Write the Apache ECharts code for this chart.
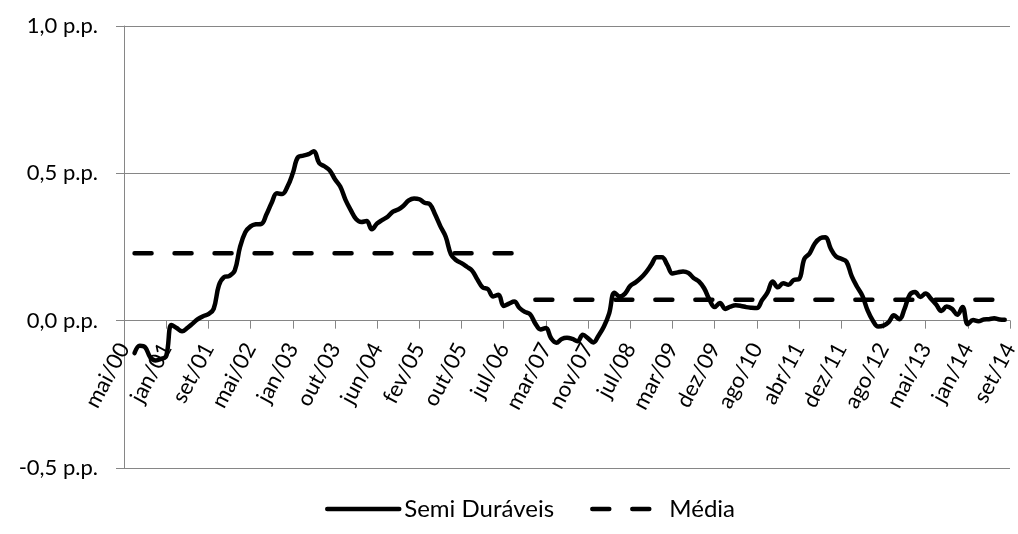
<!DOCTYPE html>
<html>
<head>
<meta charset="utf-8">
<style>
  html, body { margin: 0; padding: 0; background: #ffffff; }
  #chart { width: 1018px; height: 534px; }
</style>
<script src="https://cdn.jsdelivr.net/npm/echarts@6/dist/echarts.min.js"></script>
</head>
<body>
<div id="chart"></div>
<script>
// Monthly axis from mai/00 to set/14 (a few months are absent from the sample)
const monthNames = ['jan', 'fev', 'mar', 'abr', 'mai', 'jun', 'jul', 'ago', 'set', 'out', 'nov', 'dez'];
const firstMonth = { year: 2000, month: 4 };   // mai/00
const lastLabel = 'set/14';
const skippedMonths = ['jul/03', 'mar/06', 'jun/09', 'dez/12'];

// Y-axis ticks (p.p.)
const yTicks = [-0.5, 0.0, 0.5, 1.0];

// Semi Duráveis (p.p.), one value per category
const semiDuraveis = [
  null, null, -0.11, -0.085, -0.09, -0.125, -0.135, -0.13, -0.12, -0.015,
  -0.025, -0.036, -0.025, -0.01, 0.005, 0.015, 0.022, 0.04, 0.12, 0.148,
  0.152, 0.17, 0.25, 0.30, 0.32, 0.327, 0.328, 0.36, 0.40, 0.432,
  0.43, 0.455, 0.50, 0.555, 0.56, 0.565, 0.575, 0.535, 0.524, 0.51,
  0.48, 0.455, 0.41, 0.375, 0.345, 0.335, 0.338, 0.31, 0.33, 0.342,
  0.353, 0.37, 0.377, 0.39, 0.408, 0.415, 0.412, 0.40, 0.395, 0.36,
  0.32, 0.285, 0.225, 0.205, 0.195, 0.183, 0.17, 0.14, 0.113, 0.107,
  0.082, 0.088, 0.05, 0.058, 0.065, 0.043, 0.03, 0.022, -0.01, -0.03,
  -0.025, -0.06, -0.075, -0.062, -0.058, -0.062, -0.07, -0.048, -0.06, -0.074,
  -0.05, -0.02, 0.025, 0.095, 0.082, 0.092, 0.118, 0.13, 0.145, 0.165,
  0.19, 0.215, 0.215, 0.19, 0.16, 0.164, 0.167, 0.162, 0.145, 0.133,
  0.11, 0.072, 0.046, 0.06, 0.04, 0.048, 0.052, 0.05, 0.046, 0.044,
  0.043, 0.07, 0.095, 0.133, 0.113, 0.127, 0.122, 0.138, 0.141, 0.21,
  0.228, 0.262, 0.28, 0.283, 0.245, 0.218, 0.21, 0.20, 0.15, 0.115,
  0.085, 0.035, 0.0, -0.02, -0.017, -0.005, 0.018, 0.005, 0.04, 0.088,
  0.097, 0.08, 0.092, 0.075, 0.055, 0.033, 0.048, 0.04, 0.02, 0.046,
  -0.012, 0.002, -0.002, 0.004, 0.005, 0.008, 0.004, 0.003, null
];

// Média: average level of each sub-period [first label, last label, value]
const mediaPeriods = [
  ['jul/00', 'set/06', 0.229],
  ['jan/07', 'ago/14', 0.071]
];

// Build the category labels
const categories = [];
{
  let y = firstMonth.year, m = firstMonth.month;
  while (true) {
    const label = monthNames[m] + '/' + String(y % 100).padStart(2, '0');
    if (!skippedMonths.includes(label)) categories.push(label);
    if (label === lastLabel) break;
    m++; if (m > 11) { m = 0; y++; }
  }
}

// Média series, one value per category inside each period
const media = categories.map(() => null);
mediaPeriods.forEach(([from, to, v]) => {
  const a = categories.indexOf(from), b = categories.indexOf(to);
  for (let i = a; i <= b; i++) media[i] = v;
});

const font = 'Lato, "Open Sans", sans-serif';
const gray = '#868686';
const fontSize = 22;

// Plot box
const gridTop = 26, gridBottom = 66;
const plotHeight = 534 - gridTop - gridBottom;
const yMin = yTicks[0], yMax = yTicks[yTicks.length - 1];
// The category axis crosses the value axis at zero
const zeroOffset = -plotHeight * (0 - yMin) / (yMax - yMin);

const chart = echarts.init(document.getElementById('chart'), null, { renderer: 'canvas' });
chart.setOption({
  animation: false,
  backgroundColor: '#ffffff',
  textStyle: { fontFamily: font },
  grid: { left: 124, right: 8, top: gridTop, bottom: gridBottom, containLabel: false, outerBoundsMode: 'none' },
  legend: {
    top: 492,
    left: 320,
    itemWidth: 72,
    itemHeight: 22,
    itemGap: 36,
    itemStyle: { opacity: 0 },
    lineStyle: { width: 4.5 },
    textStyle: { fontFamily: font, fontSize: 24, color: '#000' },
    data: ['Semi Duráveis', 'Média']
  },
  xAxis: {
    type: 'category',
    data: categories,
    boundaryGap: false,
    offset: zeroOffset,
    axisLine: { onZero: false, lineStyle: { color: gray, width: 1 } },
    axisTick: { show: true, interval: 7, length: 8, lineStyle: { color: gray } },
    axisLabel: {
      interval: 7,
      rotate: 62,
      margin: 24,
      fontFamily: font,
      fontSize: fontSize,
      color: '#000'
    },
    splitLine: { show: false }
  },
  yAxis: {
    type: 'value',
    min: yMin,
    max: yMax,
    interval: 0.5,
    axisLine: { show: true, lineStyle: { color: gray, width: 1 } },
    axisTick: { show: true, length: 8, lineStyle: { color: gray } },
    axisLabel: {
      margin: 26,
      fontFamily: font,
      fontSize: fontSize,
      color: '#000',
      formatter: v => v.toFixed(1).replace('.', ',') + ' p.p.'
    },
    splitLine: { show: true, lineStyle: { color: gray, width: 1 } }
  },
  series: [
    {
      name: 'Semi Duráveis',
      type: 'line',
      data: semiDuraveis,
      smooth: 0.4,
      symbol: 'none',
      connectNulls: false,
      lineStyle: { color: '#000', width: 4.5, cap: 'round', join: 'round' },
      itemStyle: { color: '#000' },
      z: 3
    },
    {
      name: 'Média',
      type: 'line',
      data: media,
      symbol: 'none',
      connectNulls: false,
      lineStyle: { color: '#000', width: 4.5, type: [17, 23], cap: 'round' },
      itemStyle: { color: '#000' },
      z: 2
    }
  ]
});
</script>
</body>
</html>
